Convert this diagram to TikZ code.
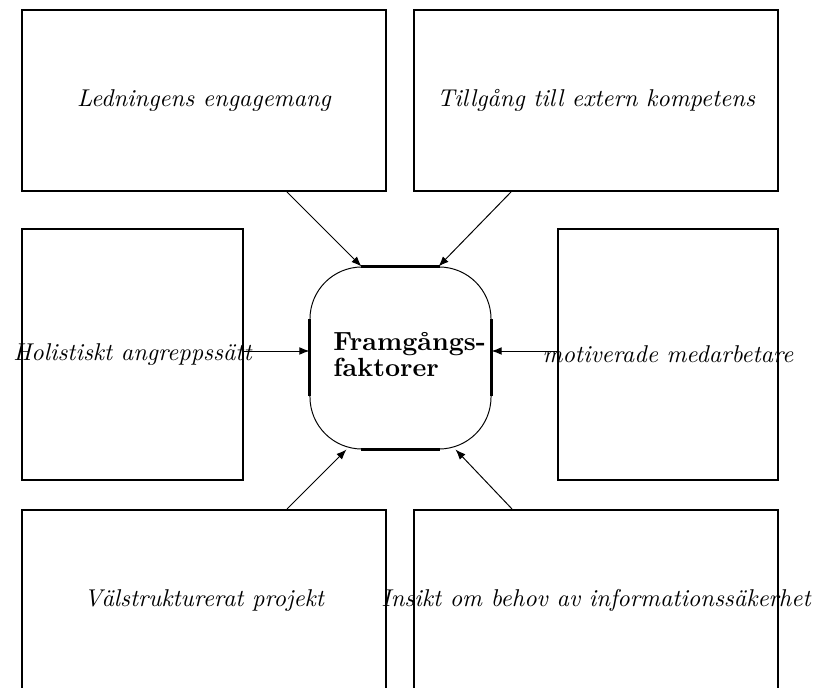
\documentclass[tikz,border=0pt]{standalone}
\usetikzlibrary{arrows.meta,calc}
\begin{document}
\begin{tikzpicture}[x=0.4115pt,y=-0.4115pt,
  factor/.style={draw,line width=0.8pt,inner sep=0pt},
  wide/.style={factor,minimum width=149.8pt,minimum height=74.5pt},
  tall/.style={factor,minimum width=90.9pt,minimum height=103.3pt},
  caption/.style={font=\itshape,inner sep=0pt},
  hub/.style={draw,line width=0.4pt,rounded corners=21.4pt,minimum width=74.5pt,minimum height=74.9pt,inner sep=0pt},
  edge/.style={line width=0.9pt},
  link/.style={line width=0.4pt,-{Latex[length=4.2pt,width=3.2pt]}}]
\clip (0,0) rectangle (819,688);
\useasboundingbox (0,0) rectangle (819,688);

% outer factor boxes
\node[wide] (b1) at (204,100.5) {};
\node[wide] (b2) at (596,100.5) {};
\node[tall] (b3) at (132.5,354.5) {};
\node[tall] (b4) at (668,354.5) {};
\node[wide] (b5) at (204,600.5) {};
\node[wide] (b6) at (596,600.5) {};

\node[caption] (t1) at (b1) {Ledningens engagemang};
\node[caption] (t2) at (b2) {Tillgång till extern kompetens};
\node[caption] (t3) at (b3) {Holistiskt angreppssätt};
\node[caption] (t4) at (b4) {motiverade medarbetare};
\node[caption] (t5) at (b5) {Välstrukturerat projekt};
\node[caption] (t6) at (b6) {Insikt om behov av informationssäkerhet};

% central rounded box with heavier straight sides
\node[hub] (c) at (400.5,358) {};
\draw[edge] ($(c.north west)+(52,0)$) -- ($(c.north east)+(-52,0)$);
\draw[edge] ($(c.south west)+(52,0)$) -- ($(c.south east)+(-52,0)$);
\draw[edge] ($(c.north west)+(0,53)$) -- ($(c.south west)+(0,-53)$);
\draw[edge] ($(c.north east)+(0,53)$) -- ($(c.south east)+(0,-53)$);
\node[font={\fontsize{10.8}{9.4}\selectfont\bfseries},align=left,inner sep=0pt,anchor=west] (ct) at (333,355) {Framgångs-\\faktorer};

% arrows into the centre
\draw[link] ($(b1.south west)+(266,0)$) -- ($(c.north west)+(52,0)$);
\draw[link] ($(b2.south west)+(98,0)$) -- ($(c.north east)+(-53,0)$);
\draw[link] (b3.east |- 0,351) -- (c.west |- 0,351);
\draw[link] (b4.west |- 0,351) -- (c.east |- 0,351);
\draw[link] ($(b5.north west)+(266,0)$) -- ($(c.south west)+(37,0)$);
\draw[link] ($(b6.north west)+(99,0)$) -- ($(c.south east)+(-36,0)$);
\end{tikzpicture}
\end{document}
